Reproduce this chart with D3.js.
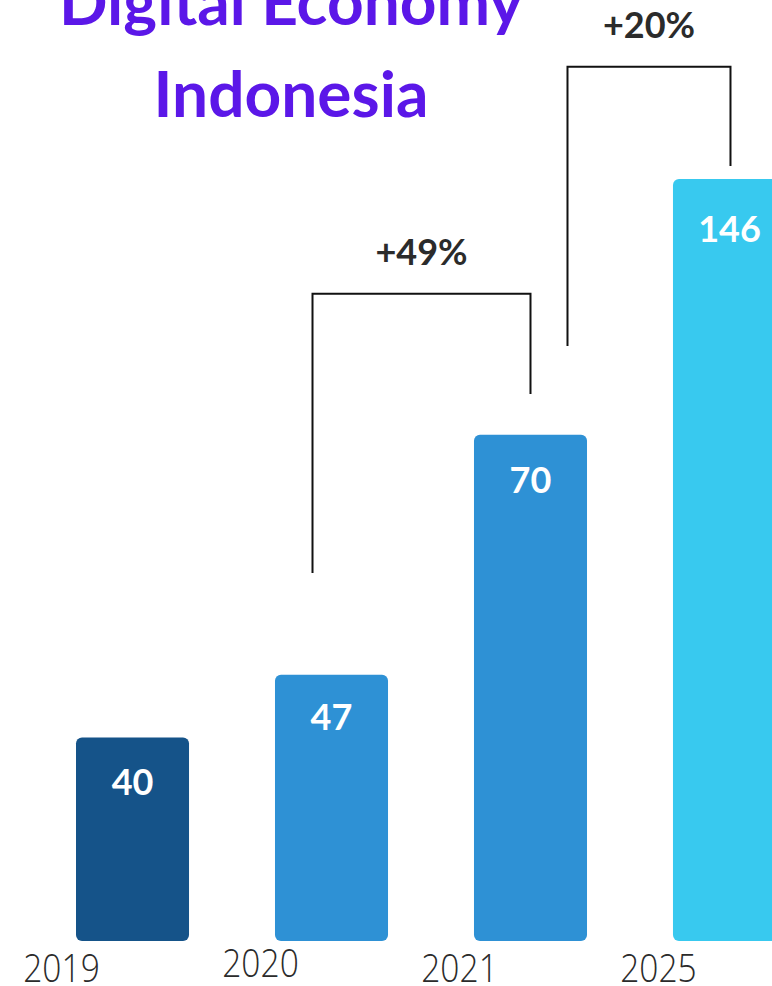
<!DOCTYPE html>
<html>
<head>
<meta charset="utf-8">
<script src="https://cdn.jsdelivr.net/npm/d3@7"></script>
<style>
  body { margin: 0; background: #fff; }
  svg { display: block; }
</style>
</head>
<body>
<div id="chart"></div>
<script>
// chart data
var years = ["2019", "2020", "2021", "2025"];
var values = [40, 47, 70, 146];            // printed on the bars
var drawnLevels = [39, 51, 97, 146];       // bar heights as drawn in the picture (not to scale)
var barColors = ["#155389", "#2e91d5", "#2e91d5", "#38c9ef"];
var growthLabels = ["+49%", "+20%"];
var growthFrom = ["2020", "2021"];
var growthTo = ["2021", "2025"];
var growthTop = [124, 167.5];              // bracket bar level
var growthLeftEnd = [70.5, 114];
var growthRightEnd = [104.8, 148.5];

var width = 772, height = 986;

var svg = d3.select("#chart")
  .append("svg")
    .attr("width", width)
    .attr("height", height);

// scales
var x = d3.scaleBand().domain(years).range([76, 786]).paddingInner(0.432).paddingOuter(0);
var y = d3.scaleLinear().domain([0, 146]).range([941, 179]);

// title
var title = svg.append("g")
    .attr("fill", "#5b17e8")
    .attr("font-family", "Lato, sans-serif")
    .attr("font-weight", 700)
    .attr("font-size", 64)
    .attr("text-anchor", "middle");
title.append("text").attr("x", 291).attr("y", 25).text("Digital Economy");
title.append("text").attr("x", 291).attr("y", 117).text("Indonesia");

// bars
var bars = years.map(function(d, i) {
  return {year: d, value: values[i], level: drawnLevels[i], color: barColors[i]};
});

svg.selectAll(".bar")
  .data(bars)
  .enter().append("rect")
    .attr("class", "bar")
    .attr("x", d => x(d.year))
    .attr("y", d => y(d.level))
    .attr("width", x.bandwidth())
    .attr("height", d => y(0) - y(d.level))
    .attr("rx", 6)
    .attr("fill", d => d.color);

svg.selectAll(".val")
  .data(bars)
  .enter().append("text")
    .attr("class", "val")
    .attr("x", d => x(d.year) + x.bandwidth() / 2)
    .attr("y", (d, i) => y(d.level) + [58, 55, 58, 63][i])
    .attr("text-anchor", "middle")
    .attr("font-family", "Lato, sans-serif")
    .attr("font-weight", 700)
    .attr("font-size", 36)
    .attr("fill", "#fff")
    .text(d => d.value);

// year labels (sit left of the bars in the original)
svg.selectAll(".year")
  .data(bars)
  .enter().append("text")
    .attr("class", "year")
    .attr("transform", (d, i) => "translate(" + (x(d.year) + x.bandwidth() / 2 - 71) + "," + (i == 1 ? 977 : 982) + ") scale(0.86,1)")
    .attr("text-anchor", "middle")
    .attr("font-family", "'Open Sans', sans-serif")
    .attr("font-weight", 300)
    .attr("font-size", 39)
    .attr("fill", "#2b2b2b")
    .text(d => d.year);

// growth brackets
var brackets = growthLabels.map(function(d, i) {
  return {label: d, from: growthFrom[i], to: growthTo[i],
          top: growthTop[i], left: growthLeftEnd[i], right: growthRightEnd[i]};
});
var offsets = [[-19, 0], [37, 1]];

brackets.forEach(function(b, i) {
  var x0 = x(b.from) + x.bandwidth() / 2 + offsets[i][0];
  var x1 = x(b.to) + x.bandwidth() / 2 + offsets[i][1];
  svg.append("path")
    .attr("d", d3.line()([[x0, y(b.left)], [x0, y(b.top)], [x1, y(b.top)], [x1, y(b.right)]]))
    .attr("fill", "none")
    .attr("stroke", "#111")
    .attr("stroke-width", 2);
  svg.append("text")
    .attr("x", (x0 + x1) / 2)
    .attr("y", y(b.top) - 29)
    .attr("text-anchor", "middle")
    .attr("font-family", "Lato, sans-serif")
    .attr("font-weight", 700)
    .attr("font-size", 36)
    .attr("fill", "#2b2b2b")
    .text(b.label);
});
</script>
</body>
</html>
